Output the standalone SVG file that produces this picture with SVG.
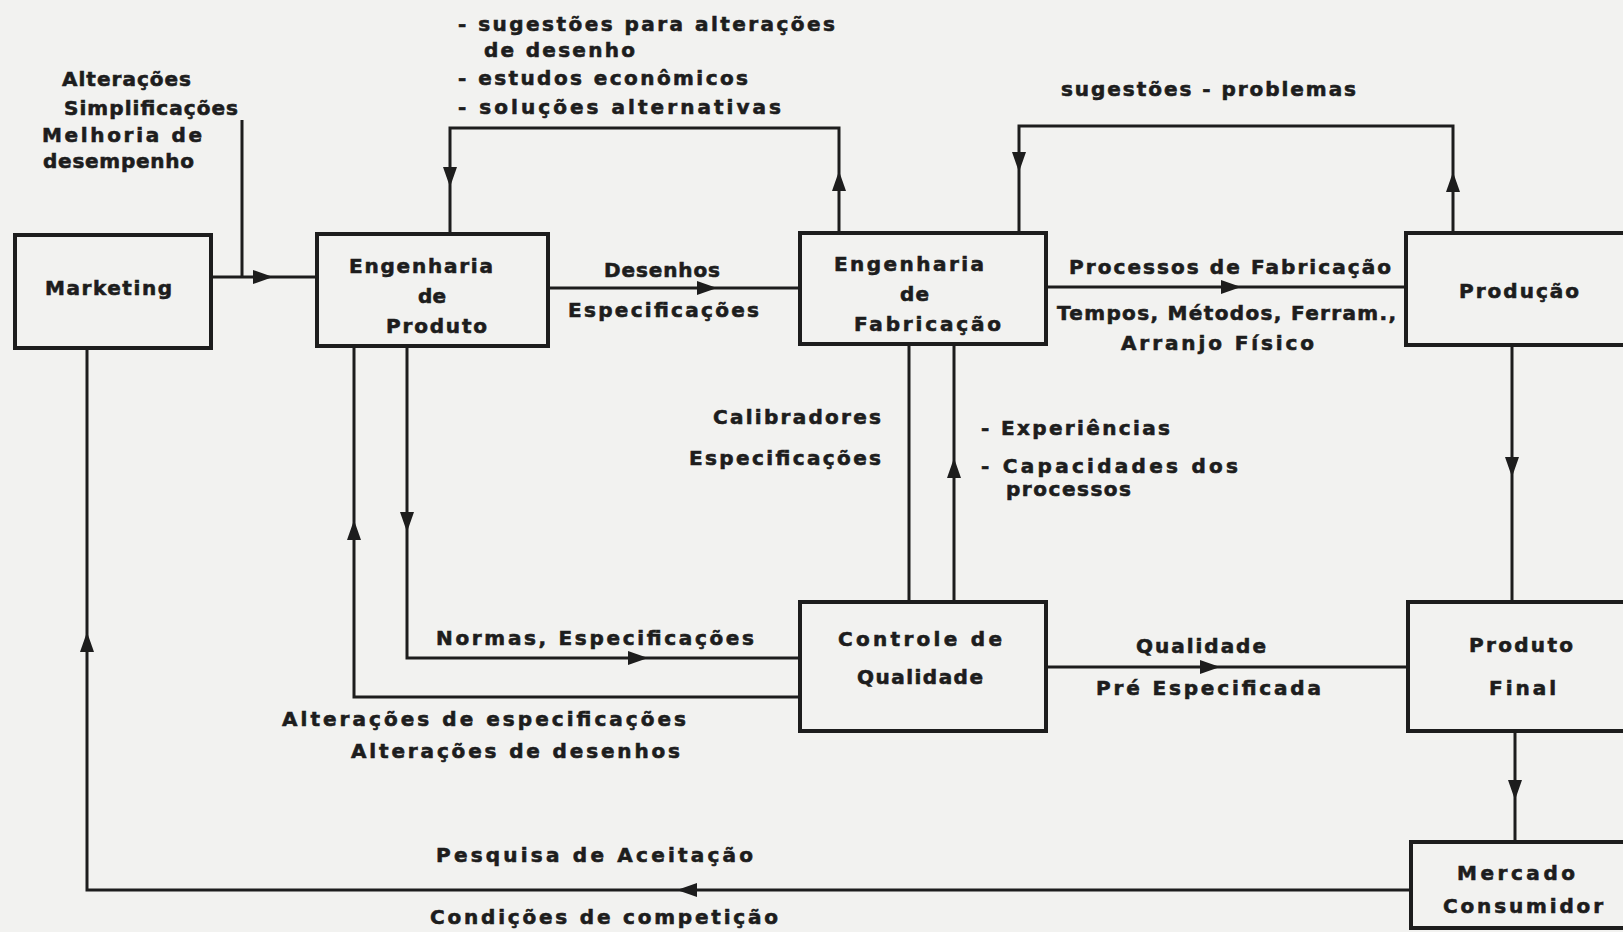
<svg xmlns="http://www.w3.org/2000/svg" xmlns:xlink="http://www.w3.org/1999/xlink" width="1623" height="932" viewBox="0 0 1623 932">
  <style>
    .box { fill: none; stroke: #1d1d1d; stroke-width: 4; }
    .ln { fill: none; stroke: #1d1d1d; stroke-width: 3; stroke-linejoin: miter; }
    .ah { fill: #1d1d1d; }
    text { font-family: "DejaVu Sans", "Liberation Sans", sans-serif; font-weight: bold; font-size: 20px; fill: #1d1d1d; stroke: #1d1d1d; stroke-width: 0.6; }
  </style>
  <defs>
    <!-- arrowhead pointing right, tip at the origin -->
    <path id="ah" class="ah" d="M0,0 L-20,-7 L-20,7 Z"/>
  </defs>

  <rect x="0" y="0" width="1623" height="932" fill="#f2f2f0"/>

  <!-- connectors -->
  <g id="connectors">
    <!-- Marketing -> Engenharia de Produto, with input from above -->
    <path class="ln" d="M211,277 H317"/>
    <path class="ln" d="M242,120 V277"/>
    <use xlink:href="#ah" transform="translate(273,277)"/>

    <!-- loop Engenharia de Produto <-> Engenharia de Fabricação -->
    <path class="ln" d="M450,234 V128 H839 V233"/>
    <use xlink:href="#ah" transform="translate(450,187) rotate(90)"/>
    <use xlink:href="#ah" transform="translate(839,171) rotate(-90)"/>

    <!-- Desenhos / Especificações -->
    <path class="ln" d="M548,288 H800"/>
    <use xlink:href="#ah" transform="translate(717,288)"/>

    <!-- loop Engenharia de Fabricação <-> Produção -->
    <path class="ln" d="M1019,233 V126 H1453 V233"/>
    <use xlink:href="#ah" transform="translate(1019,172) rotate(90)"/>
    <use xlink:href="#ah" transform="translate(1453,172) rotate(-90)"/>

    <!-- Processos de Fabricação -->
    <path class="ln" d="M1046,287 H1406"/>
    <use xlink:href="#ah" transform="translate(1241,287)"/>

    <!-- Produção -> Produto Final -->
    <path class="ln" d="M1512,345 V602"/>
    <use xlink:href="#ah" transform="translate(1512,477) rotate(90)"/>

    <!-- Produto Final -> Mercado Consumidor -->
    <path class="ln" d="M1515,731 V842"/>
    <use xlink:href="#ah" transform="translate(1515,800) rotate(90)"/>

    <!-- Mercado Consumidor -> Marketing -->
    <path class="ln" d="M1410,890 H87 V348"/>
    <use xlink:href="#ah" transform="translate(677,890) rotate(180)"/>
    <use xlink:href="#ah" transform="translate(87,632) rotate(-90)"/>

    <!-- Controle de Qualidade -> Engenharia de Produto -->
    <path class="ln" d="M800,697 H354 V346"/>
    <use xlink:href="#ah" transform="translate(354,520) rotate(-90)"/>

    <!-- Engenharia de Produto -> Controle de Qualidade -->
    <path class="ln" d="M407,346 V658 H800"/>
    <use xlink:href="#ah" transform="translate(407,532) rotate(90)"/>
    <use xlink:href="#ah" transform="translate(648,658)"/>

    <!-- Engenharia de Fabricação <-> Controle de Qualidade -->
    <path class="ln" d="M909,344 V602"/>
    <path class="ln" d="M954,602 V344"/>
    <use xlink:href="#ah" transform="translate(954,458) rotate(-90)"/>

    <!-- Controle de Qualidade -> Produto Final -->
    <path class="ln" d="M1046,667 H1408"/>
    <use xlink:href="#ah" transform="translate(1220,667)"/>
  </g>

  <!-- nodes -->
  <g id="marketing">
    <rect class="box" x="15" y="235" width="196" height="113"/>
    <text x="45" y="295" textLength="127">Marketing</text>
  </g>

  <g id="eng-produto">
    <rect class="box" x="317" y="234" width="231" height="112"/>
    <text x="349" y="273" textLength="144">Engenharia</text>
    <text x="418" y="303" textLength="28">de</text>
    <text x="386" y="333" textLength="101">Produto</text>
  </g>

  <g id="eng-fabricacao">
    <rect class="box" x="800" y="233" width="246" height="111"/>
    <text x="834" y="271" textLength="150">Engenharia</text>
    <text x="900" y="301" textLength="29">de</text>
    <text x="854" y="331" textLength="147">Fabricação</text>
  </g>

  <g id="producao">
    <rect class="box" x="1406" y="233" width="250" height="112"/>
    <text x="1459" y="298" textLength="120">Produção</text>
  </g>

  <g id="controle-qualidade">
    <rect class="box" x="800" y="602" width="246" height="129"/>
    <text x="838" y="646" textLength="164">Controle  de</text>
    <text x="857" y="684" textLength="126">Qualidade</text>
  </g>

  <g id="produto-final">
    <rect class="box" x="1408" y="602" width="250" height="129"/>
    <text x="1469" y="652" textLength="104">Produto</text>
    <text x="1489" y="695" textLength="67">Final</text>
  </g>

  <g id="mercado-consumidor">
    <rect class="box" x="1411" y="842" width="250" height="86"/>
    <text x="1457" y="880" textLength="118">Mercado</text>
    <text x="1443" y="913" textLength="160">Consumidor</text>
  </g>

  <!-- connector labels -->
  <g id="labels">
    <text x="458" y="31" textLength="377">- sugestões para alterações</text>
    <text x="484" y="57" textLength="151">de desenho</text>
    <text x="458" y="85" textLength="290">- estudos econômicos</text>
    <text x="458" y="114" textLength="323">- soluções alternativas</text>

    <text x="62" y="86" textLength="129">Alterações</text>
    <text x="64" y="115" textLength="174">Simplificações</text>
    <text x="42" y="142" textLength="160">Melhoria  de</text>
    <text x="43" y="168" textLength="151">desempenho</text>

    <text x="604" y="277" textLength="116">Desenhos</text>
    <text x="568" y="317" textLength="191">Especificações</text>

    <text x="1061" y="96" textLength="295">sugestões - problemas</text>

    <text x="1069" y="274" textLength="322">Processos de Fabricação</text>
    <text x="1057" y="320" textLength="339">Tempos, Métodos, Ferram.,</text>
    <text x="1121" y="350" textLength="193">Arranjo  Físico</text>

    <text x="713" y="424" textLength="168">Calibradores</text>
    <text x="689" y="465" textLength="192">Especificações</text>

    <text x="981" y="435" textLength="189">- Experiências</text>
    <text x="981" y="473" textLength="257">- Capacidades  dos</text>
    <text x="1006" y="496" textLength="125">processos</text>

    <text x="436" y="645" textLength="318">Normas, Especificações</text>
    <text x="282" y="726" textLength="404">Alterações de especificações</text>
    <text x="351" y="758" textLength="329">Alterações de desenhos</text>

    <text x="1136" y="653" textLength="130">Qualidade</text>
    <text x="1096" y="695" textLength="225">Pré Especificada</text>

    <text x="436" y="862" textLength="317">Pesquisa de Aceitação</text>
    <text x="430" y="924" textLength="348">Condições de competição</text>
  </g>
</svg>
